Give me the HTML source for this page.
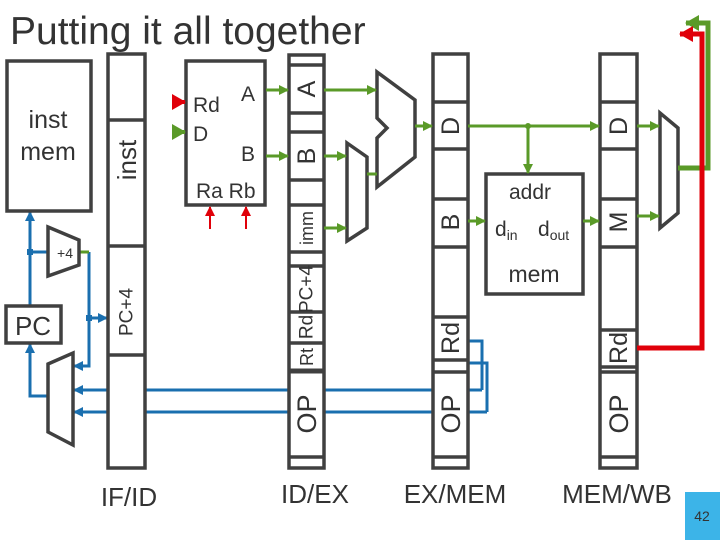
<!DOCTYPE html>
<html><head><style>
html,body{margin:0;padding:0;background:#fff;}
svg{display:block;}
text{font-family:"Liberation Sans",sans-serif;fill:#333;}
</style></head><body>
<svg width="720" height="540" viewBox="0 0 720 540" xmlns="http://www.w3.org/2000/svg">
<defs>
<marker id="ag" markerWidth="10" markerHeight="10" refX="9" refY="5" orient="auto" markerUnits="userSpaceOnUse"><path d="M0,0 L10,5 L0,10 z" fill="#5a9a28"/></marker>
<marker id="ab" markerWidth="10" markerHeight="10" refX="9" refY="5" orient="auto" markerUnits="userSpaceOnUse"><path d="M0,0 L10,5 L0,10 z" fill="#1a6faf"/></marker>
<marker id="ar" markerWidth="10" markerHeight="10" refX="9" refY="5" orient="auto" markerUnits="userSpaceOnUse"><path d="M0,0 L10,5 L0,10 z" fill="#e0000a"/></marker>
<marker id="agB" markerWidth="14" markerHeight="16" refX="13" refY="8" orient="auto" markerUnits="userSpaceOnUse"><path d="M0,0 L14,8 L0,16 z" fill="#5a9a28"/></marker>
<marker id="arB" markerWidth="14" markerHeight="16" refX="13" refY="8" orient="auto" markerUnits="userSpaceOnUse"><path d="M0,0 L14,8 L0,16 z" fill="#e0000a"/></marker>
</defs>
<text x="10" y="44" font-size="39" style="fill:#333">Putting it all together</text>

<g stroke="#1a6faf" stroke-width="3" fill="none">
<line x1="145" y1="390" x2="482" y2="390"/>
<line x1="145" y1="412" x2="487" y2="412"/>
<line x1="108" y1="390" x2="74" y2="390" marker-end="url(#ab)"/>
<line x1="108" y1="412" x2="74" y2="412" marker-end="url(#ab)"/>
<polyline points="468,341 482,341 482,390"/>
<polyline points="468,363 487,363 487,412"/>
<line x1="30" y1="306" x2="30" y2="212" marker-end="url(#ab)"/>
<line x1="30" y1="252" x2="48" y2="252"/>
<polyline points="89,252 89,366 74,366" marker-end="url(#ab)"/>
<line x1="89" y1="318" x2="107" y2="318" marker-end="url(#ab)"/>
<polyline points="48,396 30,396 30,344" marker-end="url(#ab)"/>
</g>
<rect x="27" y="249" width="6" height="6" fill="#1a6faf"/>
<rect x="86" y="315" width="6" height="6" fill="#1a6faf"/>
<line x1="79" y1="252" x2="89" y2="252" stroke="#5a9a28" stroke-width="3"/>

<g stroke="#404040" stroke-width="3.5" fill="#fff">
<rect x="7" y="61" width="84" height="150"/>
<rect x="108" y="54" width="37" height="414"/>
<rect x="186" y="61" width="79" height="144"/>
<rect x="289" y="55" width="35" height="413"/>
<rect x="433" y="54" width="35" height="414"/>
<rect x="600" y="54" width="37" height="414"/>
<rect x="486" y="174" width="97" height="120"/>
<rect x="6" y="306" width="55" height="37"/>
<polygon points="48,227 79,240 79,265 48,276"/>
<polygon points="48,364 73,353 73,445 48,432"/>
<polygon points="377,72 415,100 415,157 377,187 377,138 387,128 377,118"/>
<polygon points="347,143 367,157 367,228 347,241"/>
<polygon points="660,113 678,128 678,213 660,228"/>
</g>
<g stroke="#404040" stroke-width="3.5">
<line x1="108" y1="120" x2="145" y2="120"/><line x1="108" y1="246" x2="145" y2="246"/><line x1="108" y1="355" x2="145" y2="355"/>
<line x1="289" y1="65" x2="324" y2="65"/><line x1="289" y1="113" x2="324" y2="113"/><line x1="289" y1="132" x2="324" y2="132"/><line x1="289" y1="180" x2="324" y2="180"/><line x1="289" y1="205" x2="324" y2="205"/><line x1="289" y1="252" x2="324" y2="252"/><line x1="289" y1="266" x2="324" y2="266"/><line x1="289" y1="312" x2="324" y2="312"/><line x1="289" y1="343" x2="324" y2="343"/><line x1="289" y1="371" x2="324" y2="371" stroke-width="5"/><line x1="289" y1="457" x2="324" y2="457"/>
<line x1="433" y1="102" x2="468" y2="102"/><line x1="433" y1="149" x2="468" y2="149"/><line x1="433" y1="199" x2="468" y2="199"/><line x1="433" y1="247" x2="468" y2="247"/><line x1="433" y1="317" x2="468" y2="317"/><line x1="433" y1="360" x2="468" y2="360"/><line x1="433" y1="372" x2="468" y2="372"/><line x1="433" y1="457" x2="468" y2="457"/>
<line x1="600" y1="102" x2="637" y2="102"/><line x1="600" y1="149" x2="637" y2="149"/><line x1="600" y1="199" x2="637" y2="199"/><line x1="600" y1="247" x2="637" y2="247"/><line x1="600" y1="330" x2="637" y2="330"/><line x1="600" y1="367" x2="637" y2="367"/><line x1="600" y1="372" x2="637" y2="372"/><line x1="600" y1="457" x2="637" y2="457"/>
</g>

<g stroke="#5a9a28" stroke-width="3" fill="none">
<line x1="172" y1="132" x2="185" y2="132" stroke-width="4" marker-end="url(#agB)"/>
<line x1="266" y1="90" x2="288" y2="90" marker-end="url(#ag)"/>
<line x1="266" y1="156" x2="288" y2="156" marker-end="url(#ag)"/>
<line x1="324" y1="90" x2="376" y2="90" marker-end="url(#ag)"/>
<line x1="324" y1="156" x2="346" y2="156" marker-end="url(#ag)"/>
<line x1="324" y1="228" x2="346" y2="228" marker-end="url(#ag)"/>
<line x1="367" y1="174" x2="377" y2="174"/>
<line x1="415" y1="126" x2="432" y2="126" marker-end="url(#ag)"/>
<line x1="468" y1="126" x2="599" y2="126" marker-end="url(#ag)"/>
<line x1="528" y1="126" x2="528" y2="173" marker-end="url(#ag)"/>
<line x1="468" y1="221" x2="485" y2="221" marker-end="url(#ag)"/>
<line x1="583" y1="221" x2="599" y2="221" marker-end="url(#ag)"/>
<line x1="637" y1="126" x2="659" y2="126" marker-end="url(#ag)"/>
<line x1="637" y1="216" x2="659" y2="216" marker-end="url(#ag)"/>
<polyline points="678,168 708,168 708,23 686,23" stroke-width="5" marker-end="url(#agB)"/>
</g>
<circle cx="528" cy="126" r="3" fill="#5a9a28"/>
<g stroke="#e0000a" fill="none">
<line x1="172" y1="102" x2="185" y2="102" stroke-width="4" marker-end="url(#arB)"/>
<line x1="210" y1="229" x2="210" y2="207" stroke-width="2" marker-end="url(#ar)"/>
<line x1="246" y1="229" x2="246" y2="207" stroke-width="2" marker-end="url(#ar)"/>
<polyline points="637,348 702,348 702,34 680,34" stroke-width="5" marker-end="url(#arB)"/>
</g>

<text x="48" y="128" font-size="25" text-anchor="middle">inst</text>
<text x="48" y="160" font-size="25" text-anchor="middle">mem</text>
<text x="65" y="258" font-size="14" text-anchor="middle">+4</text>
<text x="33" y="335" font-size="26" text-anchor="middle">PC</text>
<text x="193" y="112" font-size="21">Rd</text>
<text x="193" y="141" font-size="21">D</text>
<text x="241" y="101" font-size="21">A</text>
<text x="241" y="161" font-size="21">B</text>
<text x="196" y="198" font-size="21">Ra Rb</text>
<g font-size="25" text-anchor="middle">
<text transform="translate(127,160) rotate(-90)" dominant-baseline="central" font-size="26">inst</text>
<text transform="translate(127,312) rotate(-90)" dominant-baseline="central" font-size="19">PC+4</text>
<text transform="translate(307,89) rotate(-90)" dominant-baseline="central">A</text>
<text transform="translate(307,156) rotate(-90)" dominant-baseline="central">B</text>
<text transform="translate(307,228) rotate(-90)" dominant-baseline="central" font-size="18">imm</text>
<text transform="translate(307,289) rotate(-90)" dominant-baseline="central" font-size="19">PC+4</text>
<text transform="translate(307,327) rotate(-90)" dominant-baseline="central" font-size="19">Rd</text>
<text transform="translate(307,357) rotate(-90)" dominant-baseline="central" font-size="18">Rt</text>
<text transform="translate(307,414) rotate(-90)" dominant-baseline="central" font-size="27">OP</text>
<text transform="translate(451,126) rotate(-90)" dominant-baseline="central">D</text>
<text transform="translate(451,222) rotate(-90)" dominant-baseline="central">B</text>
<text transform="translate(451,338) rotate(-90)" dominant-baseline="central">Rd</text>
<text transform="translate(451,414) rotate(-90)" dominant-baseline="central" font-size="27">OP</text>
<text transform="translate(619,126) rotate(-90)" dominant-baseline="central">D</text>
<text transform="translate(619,222) rotate(-90)" dominant-baseline="central">M</text>
<text transform="translate(619,348) rotate(-90)" dominant-baseline="central">Rd</text>
<text transform="translate(619,414) rotate(-90)" dominant-baseline="central" font-size="27">OP</text>
</g>
<text x="530" y="199" font-size="21" text-anchor="middle">addr</text>
<text x="495" y="236" font-size="21">d<tspan font-size="14" dy="4">in</tspan></text>
<text x="538" y="236" font-size="21">d<tspan font-size="14" dy="4">out</tspan></text>
<text x="534" y="282" font-size="23" text-anchor="middle">mem</text>
<g font-size="26" text-anchor="middle">
<text x="129" y="506">IF/ID</text>
<text x="315" y="503">ID/EX</text>
<text x="455" y="503">EX/MEM</text>
<text x="617" y="503">MEM/WB</text>
</g>
<rect x="685" y="492" width="35" height="48" fill="#3cb4e8"/>
<text x="702" y="521" font-size="14" text-anchor="middle">42</text>
</svg>
</body></html>
